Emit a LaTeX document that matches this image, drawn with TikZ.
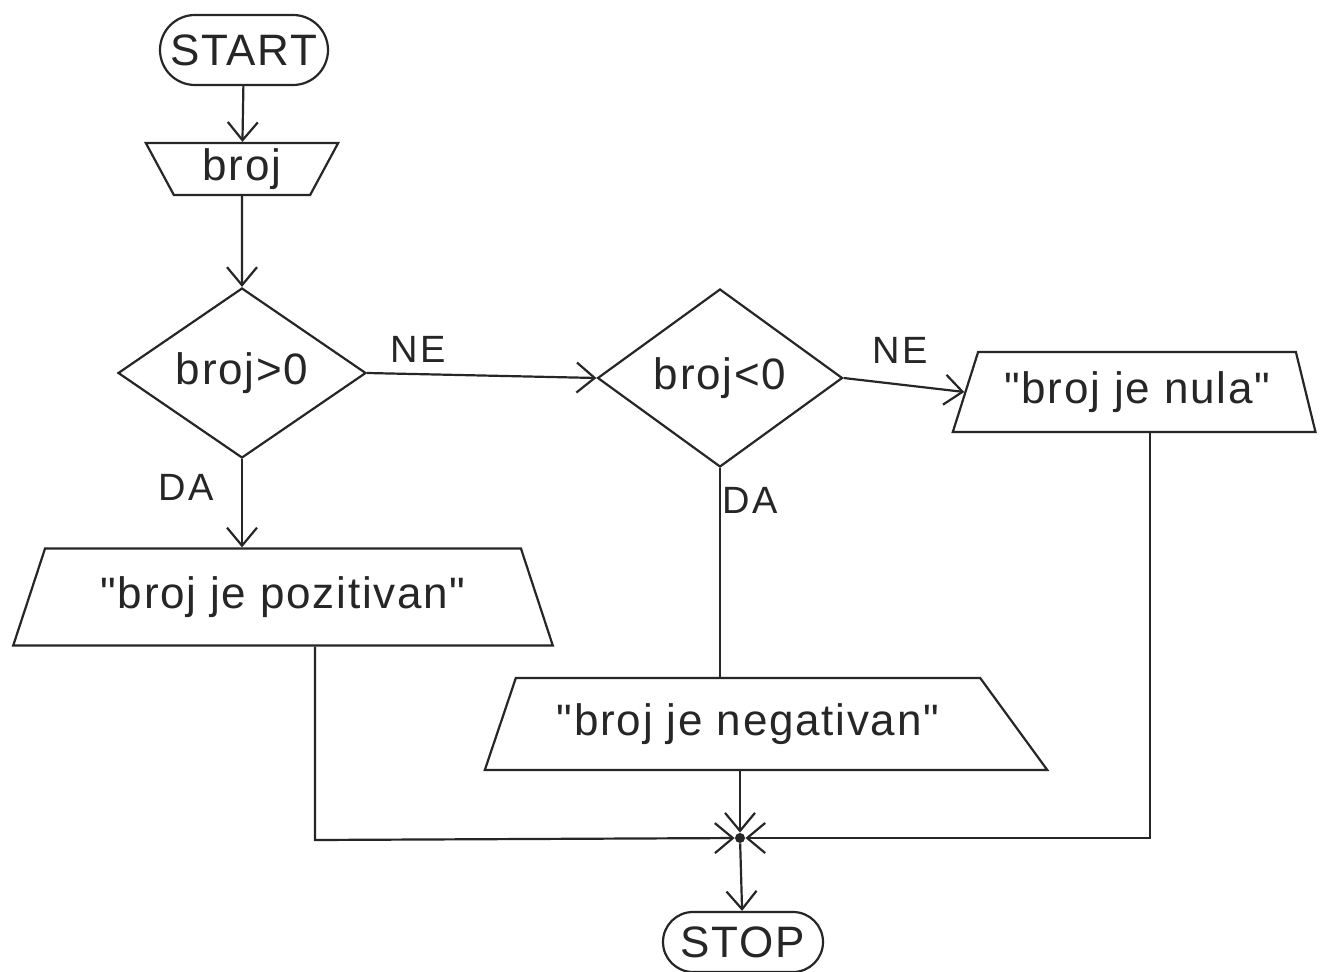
\documentclass[tikz,border=0pt]{standalone}
\usepackage{fontspec}
\setmainfont{Liberation Sans}[Ligatures=TeXOff]
\usetikzlibrary{shapes.geometric,shapes.misc,arrows.meta}
\definecolor{ink}{HTML}{262626}
\begin{document}
\begin{tikzpicture}[x=0.5pt,y=-0.5pt,
  every node/.style={text=ink},
  txt/.style={font=\fontsize{22}{26}\selectfont\addfontfeature{LetterSpace=4}},
  term/.style={rounded rectangle, draw=ink, line width=1.1pt, minimum width=88pt,
    minimum height=35pt, inner sep=2pt, txt},
  iobox/.style={trapezium, trapezium stretches=true, draw=ink, line width=1.1pt,
    inner sep=2pt, txt},
  decision/.style={diamond, draw=ink, line width=1.1pt, aspect=1.45, inner sep=0pt, txt},
  flow/.style={draw=ink, line width=1.1pt, -{Straight Barb[length=9pt,width=15pt]}},
  link/.style={draw=ink, line width=1.1pt},
  tag/.style={font=\fontsize{19}{22}\selectfont\addfontfeature{LetterSpace=6}},
  junction/.style={circle, fill=ink, inner sep=0pt, minimum size=5pt}
]
\useasboundingbox[fill=white] (0,0) rectangle (1320,972);

% terminals, input and decisions
\node[term] (start) at (244,50) {START};
\node[iobox, shape border rotate=180, trapezium angle=70,
      minimum width=96.5pt, minimum height=26pt] (input) at (242,169) {broj};
\node[decision, minimum width=124pt, minimum height=85pt] (d1) at (242,373) {broj>0};
\node[decision, minimum width=122.5pt, minimum height=89pt] (d2) at (720,378) {broj<0};

% outputs
\node[iobox, trapezium left angle=66, trapezium right angle=71,
      minimum width=181.5pt, minimum height=40pt] (nula) at (1137,392) {"broj je nula"};
\node[iobox, trapezium angle=63,
      minimum width=270.5pt, minimum height=48.5pt] (pos) at (283,597) {"broj je pozitivan"};
\node[iobox, trapezium left angle=62, trapezium right angle=41,
      minimum width=281.5pt, minimum height=46pt] (neg) at (748,724) {"broj je negativan"};

\node[junction] (j) at (740,838) {};
\node[term, minimum width=84pt, minimum height=30pt] (stop) at (743,942) {STOP};

% branch labels
\node[tag] (ne1) at (418,349) {NE};
\node[tag] (ne2) at (900,350) {NE};
\node[tag] (da1) at (186,487) {DA};
\node[tag] (da2) at (750,500) {DA};

% bends of the merging lines
\coordinate (pc) at (315,840);
\coordinate (nc) at (1150,838);

% connectors
\draw[flow] (start) -- (input);
\draw[flow] (input) -- (d1);
\draw[flow] (d1.east) -- (d2.west);
\draw[flow] (d2.east) -- (nula.left side);
\draw[flow] (d1.south) -- (d1.south |- pos.north);
\draw[link] (d2.south) -- (d2.south |- neg.north);
\draw[flow] (pos.south -| pc) -- (pc) -- (j);
\draw[flow] (nula.south -| nc) -- (nc) -- (j);
\draw[flow] (neg.south -| j) -- (j);
\draw[flow] (j) -- (stop);
\end{tikzpicture}
\end{document}
